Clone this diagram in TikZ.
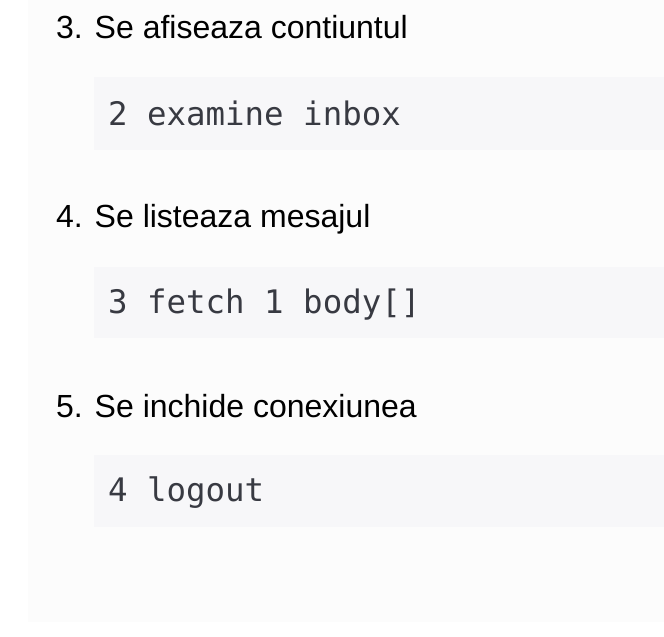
\documentclass[tikz,border=0pt]{standalone}
\usepackage{fontspec}
\setmainfont{Liberation Sans}
\newfontfamily\codefont{DejaVu Sans Mono}
\definecolor{panelbg}{HTML}{FCFCFC}
\definecolor{codebg}{HTML}{F7F7F9}
\definecolor{codefg}{HTML}{383A42}
\begin{document}
\begin{tikzpicture}[x=1pt,y=-1pt,
  heading/.style={anchor=base west,inner sep=0pt,font=\fontsize{32}{37}\selectfont,text=black},
  codetext/.style={anchor=base west,inner sep=0pt,font=\codefont\fontsize{32.4}{38}\selectfont,text=codefg},
  codeblock/.style={fill=codebg,draw=none}]
\useasboundingbox[fill=white] (0,0) rectangle (664,637);
\fill[panelbg] (28,0) rectangle (664,622);
\fill[codeblock] (94,77) rectangle (664,150);
\fill[codeblock] (94,267) rectangle (664,338);
\fill[codeblock] (94,455) rectangle (664,527);
\node[heading] (h1) at (56,38) {3. Se afiseaza contiuntul};
\node[codetext] (c1) at (108,125) {2 examine inbox};
\node[heading] (h2) at (56,227) {4. Se listeaza mesajul};
\node[codetext] (c2) at (108,313) {3 fetch 1 body[]};
\node[heading] (h3) at (56,417) {5. Se inchide conexiunea};
\node[codetext] (c3) at (108,501) {4 logout};
\end{tikzpicture}
\end{document}
